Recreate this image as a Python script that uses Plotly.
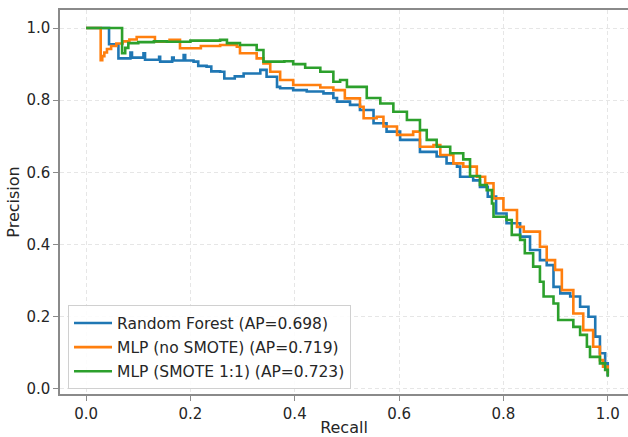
import plotly.graph_objects as go

# ---- data (recall, precision) ----
rf_recall = [0.0, 0.044, 0.062, 0.085, 0.088, 0.110, 0.113, 0.140, 0.142, 0.165, 0.168, 0.187, 0.190,
             0.206, 0.215, 0.231, 0.240, 0.257, 0.265, 0.285, 0.302, 0.334, 0.346, 0.366, 0.372, 0.397,
             0.423, 0.455, 0.474, 0.481, 0.506, 0.525, 0.551, 0.576, 0.602, 0.640, 0.672, 0.691, 0.711,
             0.717, 0.742, 0.755, 0.770, 0.786, 0.806, 0.832, 0.851, 0.870, 0.883, 0.896, 0.909, 0.928,
             0.947, 0.963, 0.976, 0.985, 0.995, 1.0, 1.0]
rf_precision = [1.0, 0.955, 0.916, 0.932, 0.918, 0.930, 0.912, 0.920, 0.907, 0.918, 0.910, 0.925, 0.910,
                0.907, 0.895, 0.893, 0.880, 0.879, 0.860, 0.866, 0.874, 0.884, 0.865, 0.837, 0.833, 0.828,
                0.824, 0.819, 0.806, 0.796, 0.787, 0.773, 0.736, 0.713, 0.690, 0.657, 0.644, 0.625, 0.616,
                0.588, 0.578, 0.560, 0.533, 0.486, 0.459, 0.422, 0.385, 0.357, 0.343, 0.283, 0.265, 0.256,
                0.228, 0.200, 0.145, 0.099, 0.071, 0.048, 0.035]

mlp_recall = [0.0, 0.028, 0.031, 0.035, 0.040, 0.048, 0.058, 0.070, 0.083, 0.097, 0.132, 0.160, 0.180,
              0.220, 0.257, 0.289, 0.295, 0.327, 0.340, 0.353, 0.372, 0.397, 0.423, 0.449, 0.474, 0.496,
              0.525, 0.532, 0.557, 0.570, 0.596, 0.627, 0.640, 0.666, 0.679, 0.704, 0.723, 0.749, 0.765,
              0.781, 0.800, 0.826, 0.839, 0.857, 0.870, 0.883, 0.899, 0.912, 0.934, 0.953, 0.972, 0.985,
              0.991, 1.0]
mlp_precision = [1.0, 0.911, 0.922, 0.932, 0.942, 0.950, 0.957, 0.963, 0.968, 0.975, 0.962, 0.967, 0.944,
                 0.950, 0.953, 0.948, 0.930, 0.916, 0.902, 0.879, 0.856, 0.842, 0.842, 0.835, 0.828, 0.805,
                 0.782, 0.750, 0.754, 0.727, 0.704, 0.713, 0.671, 0.676, 0.648, 0.625, 0.616, 0.588, 0.570,
                 0.528, 0.496, 0.449, 0.436, 0.436, 0.394, 0.357, 0.330, 0.274, 0.209, 0.163, 0.117, 0.080,
                 0.062, 0.043]

smote_recall = [0.0, 0.069, 0.075, 0.081, 0.100, 0.130, 0.155, 0.200, 0.257, 0.270, 0.295, 0.327, 0.340,
                0.380, 0.397, 0.420, 0.449, 0.474, 0.487, 0.500, 0.525, 0.538, 0.564, 0.589, 0.615, 0.640,
                0.653, 0.672, 0.698, 0.723, 0.736, 0.755, 0.768, 0.778, 0.781, 0.806, 0.816, 0.832, 0.841,
                0.857, 0.870, 0.877, 0.896, 0.905, 0.934, 0.947, 0.960, 0.966, 0.985, 0.995, 1.0]
smote_precision = [1.0, 0.930, 0.945, 0.958, 0.961, 0.963, 0.962, 0.965, 0.967, 0.958, 0.953, 0.939, 0.907,
                   0.908, 0.900, 0.890, 0.879, 0.851, 0.856, 0.837, 0.837, 0.806, 0.791, 0.768, 0.745, 0.717,
                   0.690, 0.671, 0.653, 0.636, 0.590, 0.565, 0.551, 0.514, 0.477, 0.468, 0.427, 0.413, 0.376,
                   0.339, 0.297, 0.256, 0.237, 0.191, 0.172, 0.150, 0.117, 0.089, 0.071, 0.053, 0.034]

series_names = ["Random Forest (AP=0.698)", "MLP (no SMOTE) (AP=0.719)", "MLP (SMOTE 1:1) (AP=0.723)"]
series_colors = ["#1f77b4", "#ff7f0e", "#2ca02c"]
tick_vals = [0.0, 0.2, 0.4, 0.6, 0.8, 1.0]
tick_text = ["0.0", "0.2", "0.4", "0.6", "0.8", "1.0"]

FONT = "DejaVu Sans"
AXIS_COLOR = "#8a8a8a"
GRID_COLOR = "#e6e6e6"

fig = go.Figure()
for i, (rx, py) in enumerate([(rf_recall, rf_precision), (mlp_recall, mlp_precision),
                               (smote_recall, smote_precision)]):
    fig.add_trace(go.Scatter(
        x=rx, y=py, mode="lines", name=series_names[i], legendgroup=f"g{i}",
        line=dict(color=series_colors[i], width=2.6, shape="hv"),
    ))

fig.update_layout(
    width=628, height=437,
    margin=dict(l=60, r=0, t=10, b=43),
    paper_bgcolor="white", plot_bgcolor="white",
    font=dict(family=FONT, size=15, color="#262626"),
    showlegend=True,
    legend=dict(
        x=0.0141, y=0.012, xanchor="left", yanchor="bottom",
        bgcolor="rgba(255,255,255,0.85)", bordercolor="#d0d0d0", borderwidth=1,
        font=dict(family=FONT, size=15.5, color="#262626"),
        tracegroupgap=1, itemwidth=38,
    ),
    xaxis=dict(
        range=[-0.05, 1.0388], tickvals=tick_vals, ticktext=tick_text,
        showline=True, linecolor=AXIS_COLOR, linewidth=1.5, mirror=True,
        ticks="outside", ticklen=5, tickwidth=1.2, tickcolor=AXIS_COLOR,
        showgrid=True, gridcolor=GRID_COLOR, griddash="4px,3px", gridwidth=1,
        zeroline=False,
        title=dict(text="Recall", font=dict(family=FONT, size=16), standoff=6),
        automargin=False,
    ),
    yaxis=dict(
        range=[-0.0139, 1.0499], tickvals=tick_vals, ticktext=tick_text,
        showline=True, linecolor=AXIS_COLOR, linewidth=1.5, mirror=False,
        ticks="outside", ticklen=5, tickwidth=1.2, tickcolor=AXIS_COLOR,
        showgrid=True, gridcolor=GRID_COLOR, griddash="4px,3px", gridwidth=1,
        zeroline=False,
        title=dict(text="Precision", font=dict(family=FONT, size=16), standoff=3),
        automargin=False,
    ),
)

fig.write_html(
    "out.html",
    config={"displayModeBar": False},
    post_script="document.body.style.margin='0';document.body.style.overflow='hidden';",
)
